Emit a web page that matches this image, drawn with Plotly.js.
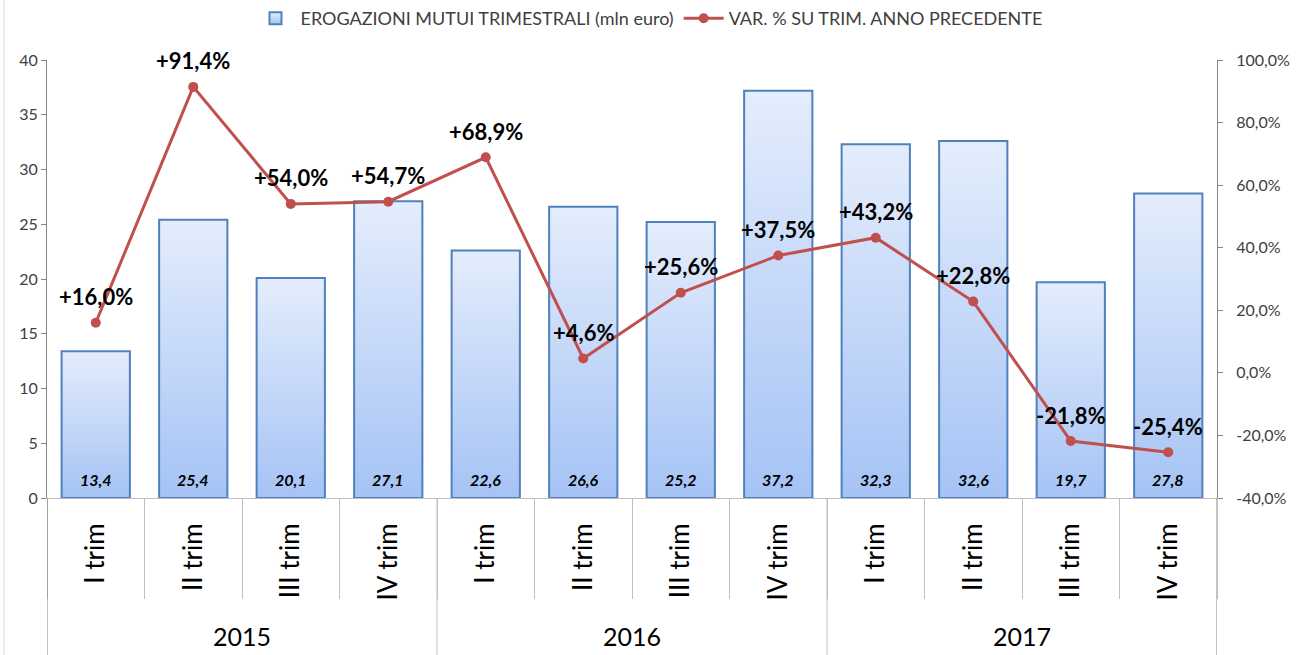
<!DOCTYPE html>
<html>
<head>
<meta charset="utf-8">
<script src="https://cdn.plot.ly/plotly-3.0.1.min.js"></script>
<style>
html,body{margin:0;padding:0;background:#fff;}
#chart{width:1298px;height:655px;}
</style>
</head>
<body>
<div id="chart"></div>
<script>
const years = ['2015', '2016', '2017'];
const quarters = ['I trim','II trim','III trim','IV trim','I trim','II trim','III trim','IV trim','I trim','II trim','III trim','IV trim'];
const erogazioni = [13.4, 25.4, 20.1, 27.1, 22.6, 26.6, 25.2, 37.2, 32.3, 32.6, 19.7, 27.8];
const variazione = [16.0, 91.4, 54.0, 54.7, 68.9, 4.6, 25.6, 37.5, 43.2, 22.8, -21.8, -25.4];

const FONT = 'Lato, "Open Sans", sans-serif';
const idx = quarters.map((_, i) => i);
const perYear = quarters.length / years.length;
const fmt = v => v.toFixed(1).replace('.', ',');

const barTrace = {
  type: 'bar',
  name: 'EROGAZIONI MUTUI TRIMESTRALI (mln euro)',
  x: idx,
  y: erogazioni,
  marker: {color: '#c4d7f8', line: {color: '#4f81bd', width: 2}},
  hoverinfo: 'skip'
};

const lineTrace = {
  type: 'scatter',
  mode: 'lines+markers',
  name: 'VAR. % SU TRIM. ANNO PRECEDENTE',
  x: idx,
  y: variazione,
  yaxis: 'y2',
  line: {color: '#c0504d', width: 3},
  marker: {color: '#c0504d', size: 10},
  cliponaxis: false
};

const annotations = erogazioni.map((v, i) => ({
  x: i, y: 1.7, xref: 'x', yref: 'y', showarrow: false,
  text: '<b><i>' + fmt(v) + '</i></b>',
  font: {family: FONT, size: 16, color: '#000'}
})).concat(variazione.map((v, i) => ({
  x: i, y: v, xref: 'x', yref: 'y2', showarrow: false, yanchor: 'middle', yshift: 26,
  text: '<b>' + (v > 0 ? '+' : '') + fmt(v) + '%</b>',
  font: {family: FONT, size: 22, color: '#000'}
}))).concat(years.map((yr, k) => ({
  x: k * perYear + (perYear - 1) / 2, xref: 'x',
  y: -138 / 438, yref: 'paper', yanchor: 'middle', showarrow: false,
  text: yr, font: {family: FONT, size: 25, color: '#000'}
})));

const shapes = [
  {type: 'line', xref: 'paper', yref: 'paper', x0: -43/1170, x1: -43/1170, y0: -157/438, y1: 1 + 60/438,
   line: {color: '#d9d9d9', width: 1}}
];
for (let k = 0; k <= years.length; k++) {
  const xb = k * perYear - 0.5;
  const edge = (k === 0 || k === years.length);
  shapes.push({type: 'line', xref: 'x', yref: 'paper', x0: xb, x1: xb, y0: 0, y1: -157/438,
    line: {color: edge ? '#868686' : '#bfbfbf', width: 1}});
}

const layout = {
  width: 1298, height: 655,
  margin: {l: 47, r: 81, t: 60, b: 157},
  paper_bgcolor: '#fff', plot_bgcolor: '#fff',
  font: {family: FONT, color: '#404040', size: 15},
  showlegend: true,
  legend: {orientation: 'h', x: 0.5, xanchor: 'center', xref: 'container', y: 1, yref: 'container', yanchor: 'top',
           font: {family: FONT, size: 18, color: '#404040'}, itemwidth: 40},
  bargap: 0.3,
  xaxis: {
    type: 'linear', range: [-0.5, quarters.length - 0.5],
    tickvals: idx, ticktext: quarters, tickangle: -90,
    tickfont: {family: FONT, size: 26, color: '#000'},
    ticks: '', ticklabelstandoff: 14,
    minor: {tick0: -0.5, dtick: 1, ticks: 'outside', ticklen: 100, tickcolor: '#bfbfbf', tickwidth: 1, showgrid: false},
    showline: true, linecolor: '#bfbfbf', linewidth: 1,
    showgrid: false, zeroline: false, automargin: false, fixedrange: true
  },
  yaxis: {
    range: [0, 40], dtick: 5, showgrid: false, zeroline: false,
    ticks: 'outside', ticklen: 5, tickcolor: '#868686',
    showline: true, linecolor: '#868686', linewidth: 1,
    tickfont: {family: FONT, size: 16, color: '#404040'}, automargin: false
  },
  yaxis2: {
    overlaying: 'y', side: 'right',
    range: [-40, 100], tickvals: [-40, -20, 0, 20, 40, 60, 80, 100],
    ticktext: [-40, -20, 0, 20, 40, 60, 80, 100].map(v => fmt(v) + '%'),
    showgrid: false, zeroline: false,
    ticks: 'outside', ticklen: 5, tickcolor: '#868686', ticklabelstandoff: 10,
    showline: true, linecolor: '#868686', linewidth: 1,
    tickfont: {family: FONT, size: 16, color: '#404040'}, automargin: false
  },
  annotations: annotations,
  shapes: shapes
};

function applyGradient(gd) {
  const svg = gd.querySelector('svg.main-svg');
  if (!svg) return;
  let defs = svg.querySelector('defs');
  if (!defs) { defs = document.createElementNS('http://www.w3.org/2000/svg', 'defs'); svg.insertBefore(defs, svg.firstChild); }
  if (!svg.querySelector('#barGrad')) {
    const g = document.createElementNS('http://www.w3.org/2000/svg', 'linearGradient');
    g.setAttribute('id', 'barGrad');
    g.setAttribute('x1', '0'); g.setAttribute('y1', '0'); g.setAttribute('x2', '0'); g.setAttribute('y2', '1');
    [['0%', '#e4edfc'], ['100%', '#a5c3f5']].forEach(([o, c]) => {
      const s = document.createElementNS('http://www.w3.org/2000/svg', 'stop');
      s.setAttribute('offset', o); s.setAttribute('stop-color', c); g.appendChild(s);
    });
    defs.appendChild(g);
  }
  gd.querySelectorAll('.trace.bars .point path').forEach(p => { p.style.fill = 'url(#barGrad)'; });
  gd.querySelectorAll('.legend .legendpoints path.legendundefined, .legend .legendbar path').forEach(p => { p.style.fill = 'url(#barGrad)'; });
}

Plotly.newPlot('chart', [barTrace, lineTrace], layout, {displayModeBar: false, staticPlot: true}).then(gd => {
  applyGradient(gd);
  gd.on('plotly_afterplot', () => applyGradient(gd));
});
</script>
</body>
</html>
